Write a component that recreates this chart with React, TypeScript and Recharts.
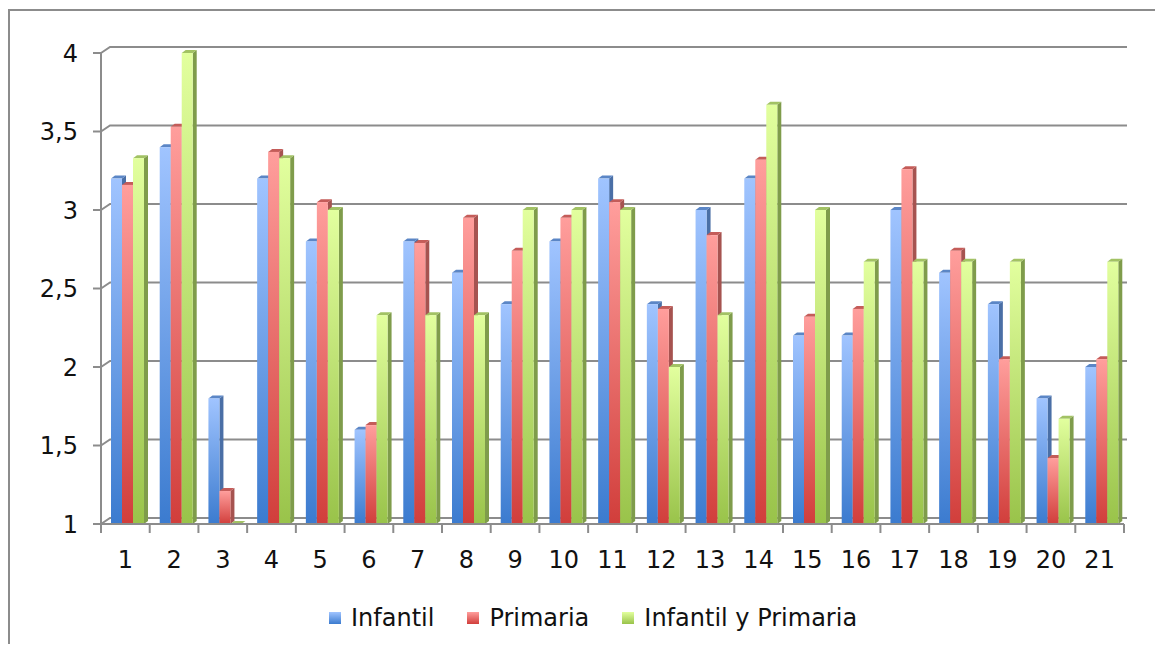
import { BarChart, Bar, XAxis, YAxis, CartesianGrid } from "recharts";

const categories = ["1", "2", "3", "4", "5", "6", "7", "8", "9", "10", "11", "12", "13", "14", "15", "16", "17", "18", "19", "20", "21"];
const infantil = [3.2, 3.4, 1.8, 3.2, 2.8, 1.6, 2.8, 2.6, 2.4, 2.8, 3.2, 2.4, 3.0, 3.2, 2.2, 2.2, 3.0, 2.6, 2.4, 1.8, 2.0];
const primaria = [3.16, 3.53, 1.21, 3.37, 3.05, 1.63, 2.79, 2.95, 2.74, 2.95, 3.05, 2.37, 2.84, 3.32, 2.32, 2.37, 3.26, 2.74, 2.05, 1.42, 2.05];
const infantilPrimaria = [3.33, 4.0, 1.0, 3.33, 3.0, 2.33, 2.33, 2.33, 3.0, 3.0, 3.0, 2.0, 2.33, 3.67, 3.0, 2.67, 2.67, 2.67, 2.67, 1.67, 2.67];
const yTicks = [1, 1.5, 2, 2.5, 3, 3.5, 4];

const data = categories.map((c, i) => ({
  name: c,
  infantil: infantil[i],
  primaria: primaria[i],
  ambos: infantilPrimaria[i],
}));

const W = 1147;
const H = 636;
const M = { top: 45, right: 31, left: 0, bottom: 70 };
const Y_AXIS_W = 93;
const BAND = (W - M.right - Y_AXIS_W) / categories.length;
const FONT = "'DejaVu Sans', sans-serif";
const GRAY = "#8c8c8c";

const series = [
  { key: "infantil", label: "Infantil", grad: "gBlue", top: "#5b86c6", side: "#4a6fa6", c1: "#a0c4ff", c2: "#3b7bcf" },
  { key: "primaria", label: "Primaria", grad: "gRed", top: "#c45c59", side: "#a65350", c1: "#ff9e9c", c2: "#d13e3b" },
  { key: "ambos", label: "Infantil y Primaria", grad: "gGreen", top: "#a2c264", side: "#7f9c4b", c1: "#e2ff9e", c2: "#99c34a" },
];

const Bar3D = (p: any) => {
  const { x, y, width, height, topColor, sideColor, grad } = p;
  if (x == null || y == null) return null;
  const d = 4;
  const dy = 3;
  const sx = x + 2;
  const h = Math.max(height, 0);
  return (
    <g>
      <polygon
        points={`${sx + width},${y} ${sx + width + d},${y - dy} ${sx + width + d},${y + h - dy} ${sx + width},${y + h}`}
        fill={sideColor}
      />
      <polygon
        points={`${sx},${y} ${sx + d},${y - dy} ${sx + width + d},${y - dy} ${sx + width},${y}`}
        fill={topColor}
      />
      <rect x={sx} y={y} width={width} height={h} fill={`url(#${grad})`} />
    </g>
  );
};

const XTick = (p: any) => {
  const { x, y, payload, index } = p;
  const left = x - BAND / 2;
  const right = x + BAND / 2;
  return (
    <g>
      <line x1={left} y1={y} x2={left} y2={y + 9} stroke={GRAY} strokeWidth={2} />
      {index === categories.length - 1 && (
        <line x1={right} y1={y} x2={right} y2={y + 9} stroke={GRAY} strokeWidth={2} />
      )}
      <text x={x} y={y + 44} textAnchor="middle" fontSize={24} fontFamily={FONT} fill="#111">
        {payload.value}
      </text>
    </g>
  );
};

const GridLine = (p: any) => {
  const { x1, x2, y1, index } = p;
  return (
    <path
      key={`g-${index}`}
      d={`M${x1},${y1} L${x1 + 9},${y1 - 6} L${x2 + 3},${y1 - 6}`}
      fill="none"
      stroke={GRAY}
      strokeWidth={2}
    />
  );
};

export default function App() {
  return (
    <div style={{ position: "relative", width: W, height: H }}>
      <div
        style={{
          position: "absolute",
          left: 0,
          top: 1,
          width: W,
          height: H - 1,
          borderLeft: `2px solid ${GRAY}`,
          borderTop: `2px solid ${GRAY}`,
          boxSizing: "border-box",
        }}
      />
      <div style={{ position: "absolute", left: 0, top: 0 }}>
        <BarChart width={W} height={H} data={data} margin={M} barGap={0} barSize={11}>
          <defs>
            {series.map((s) => (
              <linearGradient key={s.grad} id={s.grad} x1="0" y1="0" x2="0" y2="1">
                <stop offset="0%" stopColor={s.c1} />
                <stop offset="100%" stopColor={s.c2} />
              </linearGradient>
            ))}
          </defs>
          <CartesianGrid vertical={false} horizontal={GridLine} />
          <XAxis
            dataKey="name"
            height={50}
            tickSize={0}
            tickMargin={0}
            tickLine={false}
            axisLine={{ stroke: GRAY, strokeWidth: 2 }}
            tick={XTick}
            interval={0}
          />
          <YAxis
            width={Y_AXIS_W}
            domain={[1, 4]}
            ticks={yTicks}
            tickSize={8}
            tickMargin={15}
            axisLine={{ stroke: GRAY, strokeWidth: 2 }}
            tickLine={{ stroke: GRAY, strokeWidth: 2 }}
            tick={{ fontSize: 24, fontFamily: FONT, fill: "#111" }}
            tickFormatter={(v: number) => String(v).replace(".", ",")}
          />
          {series.map((s) => (
            <Bar
              key={s.key}
              dataKey={s.key}
              name={s.label}
              isAnimationActive={false}
              shape={(p: any) => <Bar3D {...p} topColor={s.top} sideColor={s.side} grad={s.grad} />}
            />
          ))}
        </BarChart>
      </div>
      <div
        style={{
          position: "absolute",
          left: 321,
          top: 596,
          display: "flex",
          alignItems: "center",
          fontFamily: FONT,
          fontSize: 24,
          color: "#111",
        }}
      >
        {series.map((s, i) => (
          <div key={s.key} style={{ display: "flex", alignItems: "center", marginLeft: i === 0 ? 0 : 33 }}>
            <span
              style={{
                width: 12,
                height: 12,
                marginRight: 10,
                background: `linear-gradient(${s.c1}, ${s.c2})`,
                display: "inline-block",
              }}
            />
            <span>{s.label}</span>
          </div>
        ))}
      </div>
    </div>
  );
}
